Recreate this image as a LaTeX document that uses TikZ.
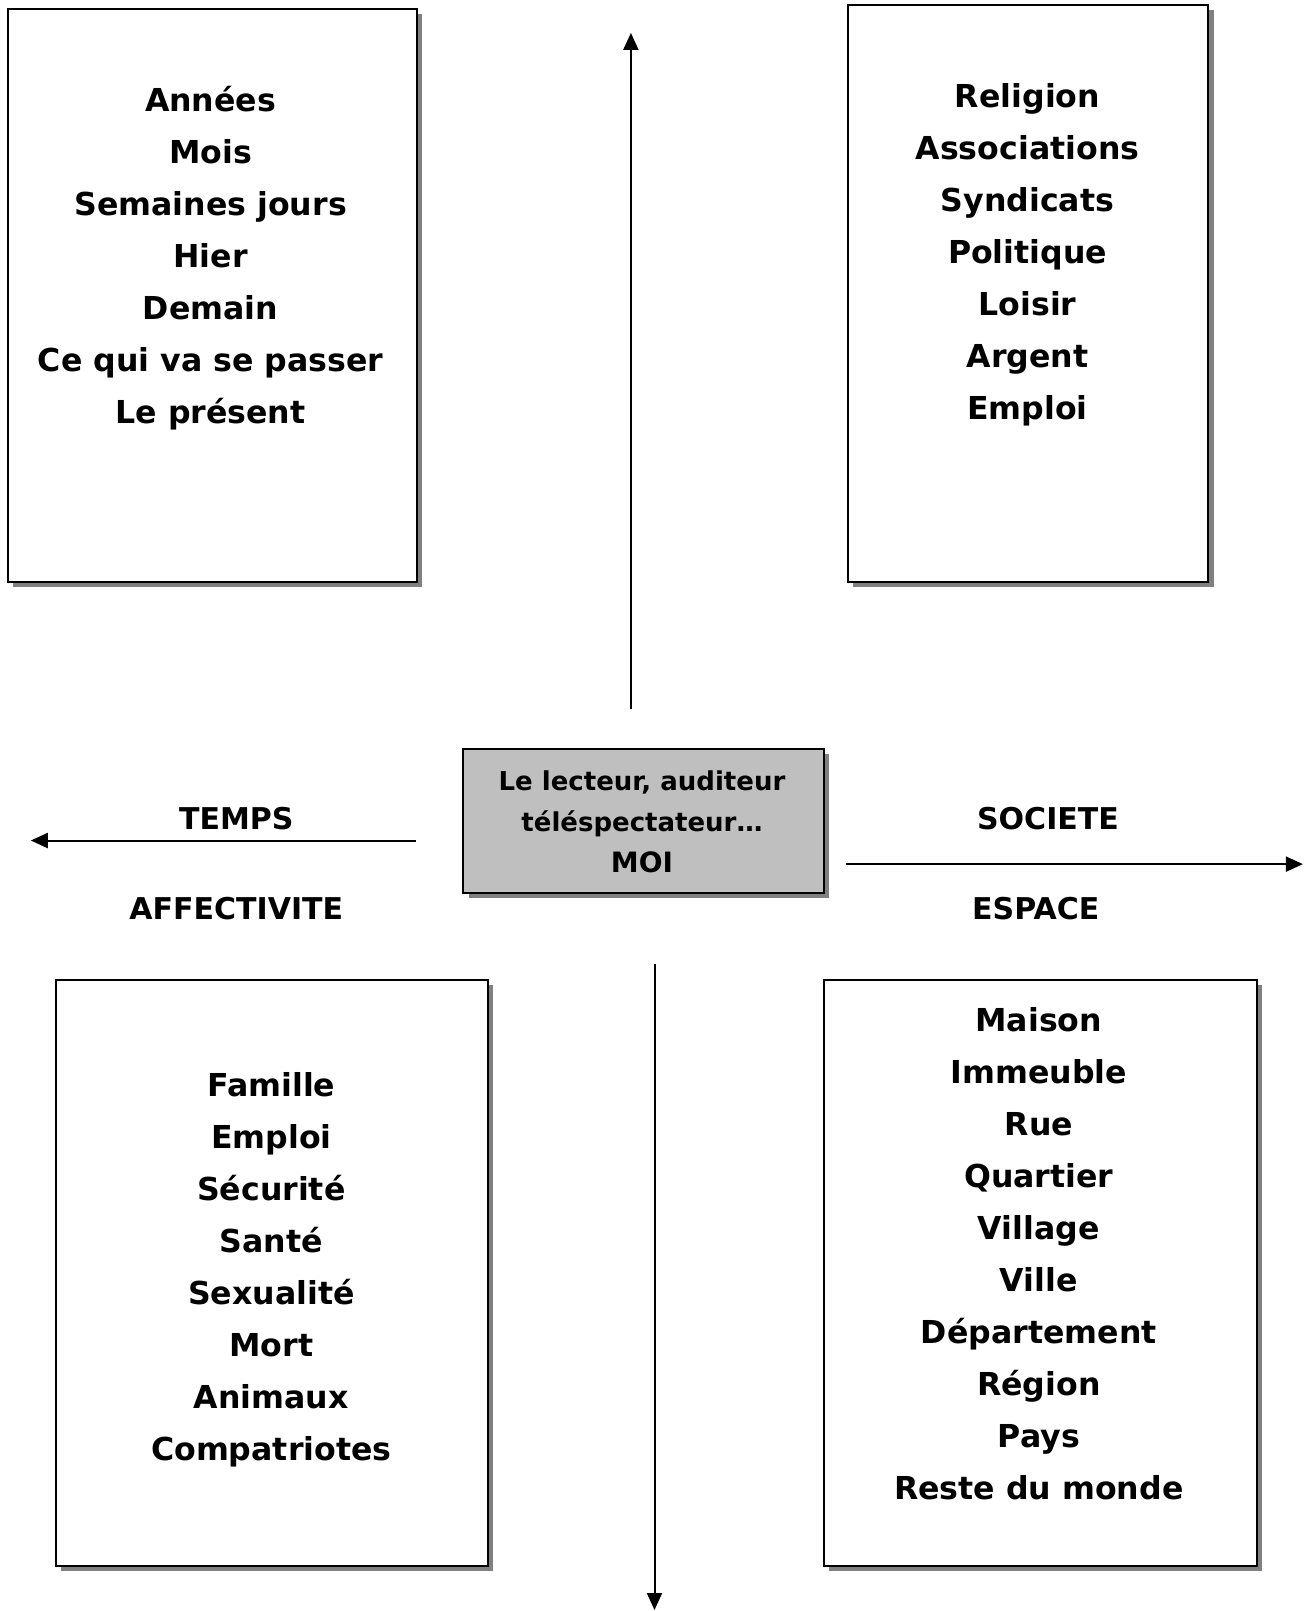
\documentclass[tikz,border=0pt]{standalone}
\usepackage{fontspec}
\setmainfont{DejaVu Sans}
\usetikzlibrary{shadows,arrows.meta}
\tikzset{
  panel/.style={draw=black, line width=1pt, fill=white, inner sep=0pt,
    drop shadow={fill=black!50, opacity=1, shadow xshift=2.6pt, shadow yshift=-2.6pt}},
  core/.style={panel, fill=black!25},
  bigtext/.style={inner sep=0pt, align=center, font=\bfseries\fontsize{15.8}{26}\selectfont},
  smalltext/.style={inner sep=0pt, align=center, font=\bfseries\fontsize{13}{20.5}\selectfont},
  labeltext/.style={inner sep=0pt, align=center, font=\bfseries\fontsize{15}{20.5}\selectfont},
  axis/.style={line width=1pt, -{Triangle[length=8.5pt,width=7.5pt]}}
}
\begin{document}
\begin{tikzpicture}[x=0.5pt,y=-0.5pt]
\useasboundingbox[fill=white] (0,0) rectangle (1310,1611);
% boxes
\node[panel, minimum width=204.4pt, minimum height=286.2pt, anchor=north west] (tl) at (7.2,8.2) {};
\node[panel, minimum width=180.3pt, minimum height=288.2pt, anchor=north west] (tr) at (846.7,4.1) {};
\node[panel, minimum width=216.2pt, minimum height=292.9pt, anchor=north west] (bl) at (54.5,979.2) {};
\node[panel, minimum width=216.3pt, minimum height=292.9pt, anchor=north west] (br) at (823,979.2) {};
\node[core, minimum width=180.3pt, minimum height=72pt, anchor=north west] (moi) at (462.4,748) {};
% texts
\node[bigtext] (tlt) at (210.6,258.5) {Années\\Mois\\Semaines jours\\Hier\\Demain\\Ce qui va se passer\\Le présent};
\node[bigtext] (trt) at (1027.5,254.4) {Religion\\Associations\\Syndicats\\Politique\\Loisir\\Argent\\Emploi};
\node[bigtext] (blt) at (271.3,1270) {Famille\\Emploi\\Sécurité\\Santé\\Sexualité\\Mort\\Animaux\\Compatriotes};
\node[bigtext] (brt) at (1038.8,1254) {Maison\\Immeuble\\Rue\\Quartier\\Village\\Ville\\Département\\Région\\Pays\\Reste du monde};
\node[smalltext] (moit) at (642,822) {Le lecteur, auditeur\\téléspectateur…\\{\fontsize{14}{20.5}\selectfont MOI}};
% labels
\node[labeltext] (temps) at (236.3,819) {TEMPS};
\node[labeltext] (affect) at (236.3,908.3) {AFFECTIVITE};
\node[labeltext] (societe) at (1048,819) {SOCIETE};
\node[labeltext] (espace) at (1035.7,908.3) {ESPACE};
% axes
\coordinate (upS) at (630.9,709);
\coordinate (upE) at (630.9,32.9);
\coordinate (dnS) at (654.5,963.8);
\coordinate (dnE) at (654.5,1610);
\coordinate (lfS) at (416,840.5);
\coordinate (lfE) at (30.8,840.5);
\coordinate (rtS) at (845.6,864.1);
\coordinate (rtE) at (1302.9,864.1);
\draw[axis] (upS) -- (upE);
\draw[axis] (dnS) -- (dnE);
\draw[axis] (lfS) -- (lfE);
\draw[axis] (rtS) -- (rtE);
\end{tikzpicture}
\end{document}
